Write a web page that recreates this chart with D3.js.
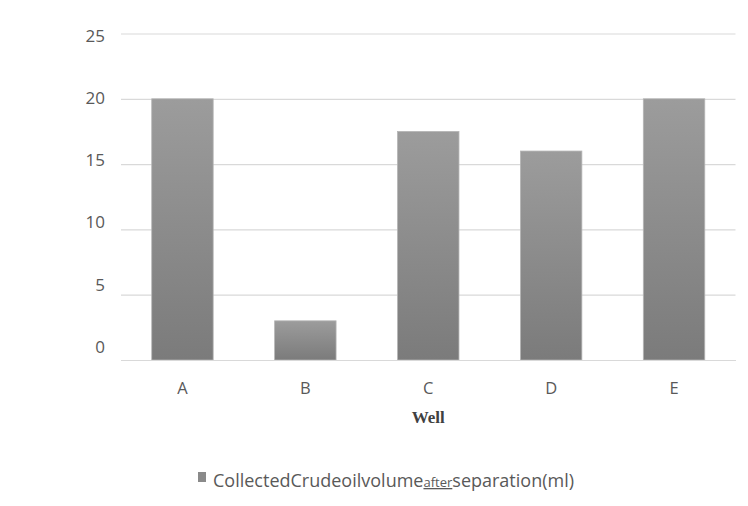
<!DOCTYPE html>
<html><head><meta charset="utf-8">
<script src="https://cdn.jsdelivr.net/npm/d3@7"></script>
<style>body{margin:0;background:#fff}svg{display:block}</style>
</head><body>
<script>
const categories = ["A","B","C","D","E"];
const values = [20, 3, 17.5, 16, 20];
const yTicks = [0,5,10,15,20,25];
const xTitle = "Well";
const legendParts = ["CollectedCrudeoilvolume","after","separation(ml)"];

const W=748,H=506;
const svg=d3.select("body").append("svg").attr("width",W).attr("height",H);
const m={left:121,right:12.5};
const x=d3.scaleBand().domain(categories).range([m.left,W-m.right]).paddingInner(0.5).paddingOuter(0.25);
const y=d3.scaleLinear().domain([0,25]).range([360,33.5]);
// tick labels in the source sit on a slightly compressed spacing
const yLab=d3.scaleLinear().domain([0,25]).range([353,41.5]);

const defs=svg.append("defs");
const g=defs.append("linearGradient").attr("id","bg").attr("x1",0).attr("y1",0).attr("x2",0).attr("y2",1);
g.append("stop").attr("offset","0%").attr("stop-color","#9c9c9c");
g.append("stop").attr("offset","100%").attr("stop-color","#7b7b7b");

// gridlines
const yAxis=d3.axisLeft(y).tickValues(yTicks).tickSize(-(W-m.right-m.left)).tickFormat("");
const ya=svg.append("g").attr("transform",`translate(${m.left},0)`).call(yAxis);
ya.select(".domain").remove();
ya.selectAll(".tick line").attr("stroke","#d9d9d9").attr("stroke-width",1.2);

svg.append("g").selectAll("text").data(yTicks).join("text")
  .attr("x",105).attr("y",d=>yLab(d)).attr("text-anchor","end")
  .attr("fill","#595959").style("font-family","'Open Sans', sans-serif").style("font-size","17px")
  .text(d=>d);

// bars
svg.append("g").selectAll("rect").data(values).join("rect")
  .attr("x",(d,i)=>x(categories[i]))
  .attr("width",x.bandwidth())
  .attr("y",d=>y(d))
  .attr("height",d=>y(0)-y(d))
  .attr("fill","url(#bg)")
  .attr("stroke","#b5b5b5").attr("stroke-width",0.8);

// x axis
const xa=svg.append("g").attr("transform",`translate(0,360)`).call(d3.axisBottom(x).tickSize(0).tickPadding(0));
xa.attr("font-size",null).attr("font-family",null);
xa.select(".domain").attr("stroke","#d9d9d9").attr("stroke-width",1.2);
xa.selectAll(".tick text").attr("dy",null).attr("y",33.5).attr("fill","#595959")
  .style("font-family","'Open Sans', sans-serif").style("font-size","16.5px");

svg.append("text").attr("x",(m.left+W-m.right)/2).attr("y",423).attr("text-anchor","middle")
  .attr("fill","#404040").style("font-family","'Liberation Serif', 'DejaVu Serif', serif")
  .style("font-weight","bold").style("font-size","17px").text(xTitle);

// legend
svg.append("rect").attr("x",198).attr("y",472).attr("width",8).attr("height",10).attr("fill","#8a8a8a");
const lt=svg.append("text").attr("x",213).attr("y",487).attr("fill","#595959")
  .style("font-family","'Open Sans', sans-serif").style("font-size","18px");
lt.append("tspan").text(legendParts[0]);
lt.append("tspan").style("font-size","13px").style("text-decoration","underline").text(legendParts[1]);
lt.append("tspan").text(legendParts[2]);
</script>
</body></html>
